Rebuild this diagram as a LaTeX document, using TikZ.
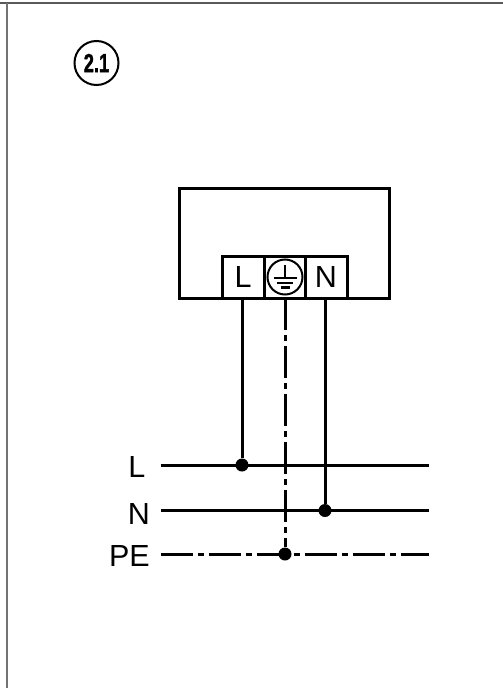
\documentclass[tikz,border=0pt]{standalone}
\usepackage{fontspec}
\setmainfont{Liberation Sans}
\newfontfamily\badgefont[FakeStretch=0.7,FakeBold=1.5]{Liberation Sans Bold}
\usetikzlibrary{positioning}

\begin{document}
\begin{tikzpicture}[
    x=1pt, y=-1pt, % one unit is one pixel of the drawing, y runs down
    node distance=0pt and 0pt,
    wire/.style={line width=3pt},
    pewire/.style={wire, dash pattern=on 32pt off 5pt on 6pt off 5pt},
    housing/.style={draw, line width=3pt, inner sep=0pt, outer sep=0pt, minimum width=209.5pt, minimum height=110pt},
    termbox/.style={draw, line width=3pt, inner sep=0pt, outer sep=0pt, minimum height=41.5pt, font=\fontsize{30.5}{31}\selectfont},
    junction/.style={circle, fill=black, inner sep=0pt, minimum size=13pt},
    buslabel/.style={anchor=base east, inner sep=0pt, font=\fontsize{30.5}{31}\selectfont}
]
\useasboundingbox (0,0) rectangle (503,688);

% Sheet edges
\draw[line width=1.2pt, black!65] (0,3) -- (503,3);
\draw[line width=2.6pt, black!55] (7,3) -- (7,688);

% Figure number
\node (fig_badge) [draw, circle, line width=2pt, inner sep=0pt, minimum size=44pt] at (96.5,63) {\badgefont\fontsize{26}{27}\selectfont 2.1};

% Device with its terminal block
\node (device) [housing] at (284.5,243) {};
\node (term_e) [termbox, minimum width=41pt] at (284.5,277.5) {};
\node (term_l) [termbox, minimum width=42pt, left=of term_e] {L};
\node (term_n) [termbox, minimum width=42pt, right=of term_e] {N};

% Earth symbol
\node (earth_ring) [draw, circle, line width=2pt, inner sep=0pt, minimum size=35pt] at (285,277) {};
\draw[line width=2pt] (285,265) -- (285,277.5);
\draw[line width=2pt] (273.5,277.5) -- (296.5,277.5);
\draw[line width=2pt] (277,282.5) -- (293,282.5);
\draw[line width=3pt] (280.5,287.5) -- (289.5,287.5);

% Supply lines
\coordinate (bus_l_w) at (160.5,465);
\coordinate (bus_l_e) at (429,465);
\coordinate (bus_n_w) at (160.5,510.5);
\coordinate (bus_n_e) at (429,510.5);
\coordinate (bus_pe_w) at (160.5,554);
\coordinate (bus_pe_e) at (429,554);
\draw[wire] (bus_l_w) -- (bus_l_e);
\draw[wire] (bus_n_w) -- (bus_n_e);
\draw[pewire] (bus_pe_w) -- (bus_pe_e);

\node (bus_l_label) [buslabel] at (145.5,477) {L};
\node (bus_n_label) [buslabel] at (150,524) {N};
\node (bus_pe_label) [buslabel] at (150,566) {PE};

% Junctions and drops from the terminals
\node (dot_l) [junction] at (242,465) {};
\node (dot_n) [junction] at (325,510.5) {};
\node (dot_pe) [junction] at (285,554) {};

\draw[wire] (dot_l |- term_l.south) -- (dot_l);
\draw[wire] (dot_n |- term_n.south) -- (dot_n);
\draw[pewire] (dot_pe |- term_e.south) -- (dot_pe);

\end{tikzpicture}
\end{document}
